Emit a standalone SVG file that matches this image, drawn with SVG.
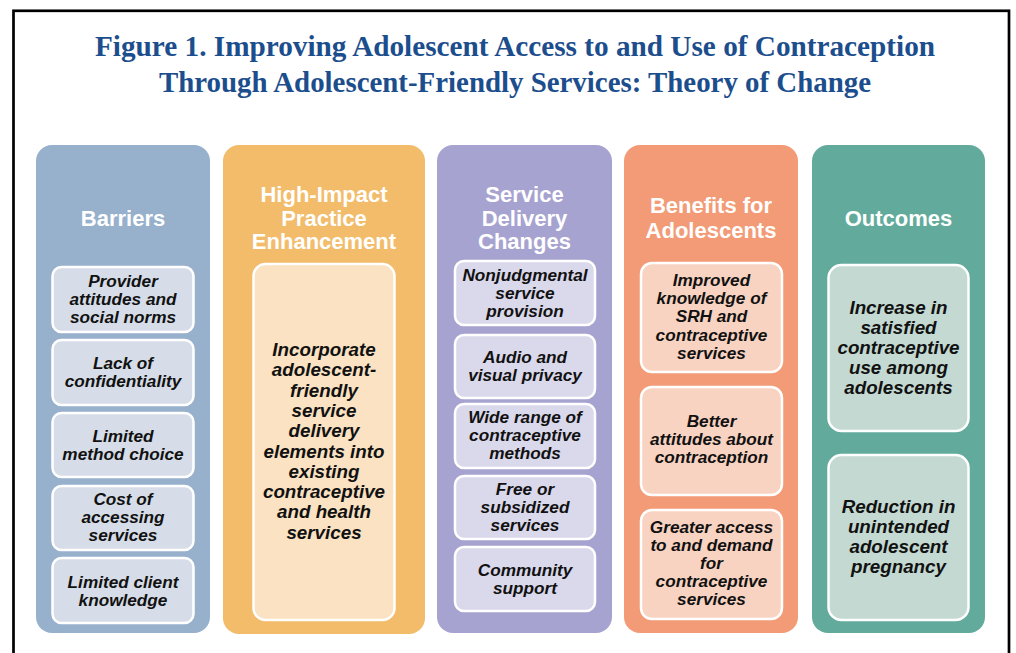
<svg xmlns="http://www.w3.org/2000/svg" width="1016" height="653" viewBox="0 0 1016 653">
<style>
.title{font-family:"Liberation Serif","Times New Roman",serif;font-weight:bold;font-size:29px;fill:#1c4e8d;text-anchor:middle}
.col{stroke:none}
.head{font-family:"Liberation Sans",Arial,sans-serif;font-weight:bold;font-size:22px;fill:#ffffff;text-anchor:middle}
.box{stroke:#ffffff;stroke-width:2.5}
.item{font-family:"Liberation Sans",Arial,sans-serif;font-weight:bold;font-style:italic;font-size:17.2px;fill:#111111;text-anchor:middle}
.big{font-size:18.8px}
</style>
<rect x="0" y="0" width="1016" height="653" fill="#ffffff"/>
<rect x="13.5" y="10.8" width="995.5" height="700" fill="none" stroke="#000000" stroke-width="2.7"/>
<text class="title" x="515" y="56" textLength="840" lengthAdjust="spacingAndGlyphs">Figure 1. Improving Adolescent Access to and Use of Contraception</text>
<text class="title" x="515" y="92" textLength="712" lengthAdjust="spacingAndGlyphs">Through Adolescent-Friendly Services: Theory of Change</text>

<g id="barriers">
<rect class="col" x="36" y="145" width="174" height="488" rx="16" fill="#97b0cc"/>
<text class="head" x="123" y="226">Barriers</text>
<rect class="box" x="52.5" y="267" width="141" height="65" rx="9" fill="#d6dde8"/>
<text class="item" x="123" y="286.5">Provider</text>
<text class="item" x="123" y="304.5">attitudes and</text>
<text class="item" x="123" y="322.5">social norms</text>
<rect class="box" x="52.5" y="340" width="141" height="65" rx="9" fill="#d6dde8"/>
<text class="item" x="123" y="368.5">Lack of</text>
<text class="item" x="123" y="386.5">confidentiality</text>
<rect class="box" x="52.5" y="413" width="141" height="64" rx="9" fill="#d6dde8"/>
<text class="item" x="123" y="441.5">Limited</text>
<text class="item" x="123" y="459.5">method choice</text>
<rect class="box" x="52.5" y="486" width="141" height="64" rx="9" fill="#d6dde8"/>
<text class="item" x="123" y="505">Cost of</text>
<text class="item" x="123" y="523">accessing</text>
<text class="item" x="123" y="541">services</text>
<rect class="box" x="52.5" y="558" width="141" height="65" rx="9" fill="#d6dde8"/>
<text class="item" x="123" y="587.5">Limited client</text>
<text class="item" x="123" y="605.5">knowledge</text>
</g>

<g id="hip">
<rect class="col" x="223" y="145" width="202" height="489" rx="16" fill="#f2bc6a"/>
<text class="head" x="324" y="202">High-Impact</text>
<text class="head" x="324" y="225.5">Practice</text>
<text class="head" x="324" y="249">Enhancement</text>
<rect class="box" x="253.5" y="264" width="141" height="356" rx="12" fill="#fae2c2"/>
<text class="item big" x="324" y="356">Incorporate</text>
<text class="item big" x="324" y="376.3">adolescent-</text>
<text class="item big" x="324" y="396.6">friendly</text>
<text class="item big" x="324" y="416.9">service</text>
<text class="item big" x="324" y="437.2">delivery</text>
<text class="item big" x="324" y="457.5">elements into</text>
<text class="item big" x="324" y="477.8">existing</text>
<text class="item big" x="324" y="498.1">contraceptive</text>
<text class="item big" x="324" y="518.4">and health</text>
<text class="item big" x="324" y="538.7">services</text>
</g>

<g id="service">
<rect class="col" x="437" y="145" width="175" height="488" rx="16" fill="#a7a3d0"/>
<text class="head" x="524.5" y="202">Service</text>
<text class="head" x="524.5" y="225.5">Delivery</text>
<text class="head" x="524.5" y="249">Changes</text>
<rect class="box" x="455" y="261" width="140" height="64" rx="9" fill="#dad8eb"/>
<text class="item" x="525" y="280.5">Nonjudgmental</text>
<text class="item" x="525" y="298.5">service</text>
<text class="item" x="525" y="316.5">provision</text>
<rect class="box" x="455" y="335" width="140" height="63" rx="9" fill="#dad8eb"/>
<text class="item" x="525" y="362.5">Audio and</text>
<text class="item" x="525" y="380.5">visual privacy</text>
<rect class="box" x="455" y="404" width="140" height="64" rx="9" fill="#dad8eb"/>
<text class="item" x="525" y="423">Wide range of</text>
<text class="item" x="525" y="441">contraceptive</text>
<text class="item" x="525" y="459">methods</text>
<rect class="box" x="455" y="476" width="140" height="63" rx="9" fill="#dad8eb"/>
<text class="item" x="525" y="494.5">Free or</text>
<text class="item" x="525" y="512.5">subsidized</text>
<text class="item" x="525" y="530.5">services</text>
<rect class="box" x="455" y="547" width="140" height="64" rx="9" fill="#dad8eb"/>
<text class="item" x="525" y="575.5">Community</text>
<text class="item" x="525" y="593.5">support</text>
</g>

<g id="benefits">
<rect class="col" x="624" y="145" width="174" height="488" rx="16" fill="#f29b76"/>
<text class="head" x="711" y="213">Benefits for</text>
<text class="head" x="711" y="237.5">Adolescents</text>
<rect class="box" x="641" y="263" width="141" height="109" rx="11" fill="#f9d3c1"/>
<text class="item" x="711.5" y="286">Improved</text>
<text class="item" x="711.5" y="304">knowledge of</text>
<text class="item" x="711.5" y="322">SRH and</text>
<text class="item" x="711.5" y="340.5">contraceptive</text>
<text class="item" x="711.5" y="359">services</text>
<rect class="box" x="641" y="387" width="141" height="108" rx="11" fill="#f9d3c1"/>
<text class="item" x="711.5" y="427">Better</text>
<text class="item" x="711.5" y="445">attitudes about</text>
<text class="item" x="711.5" y="463">contraception</text>
<rect class="box" x="641" y="510" width="141" height="109" rx="11" fill="#f9d3c1"/>
<text class="item" x="711.5" y="532.5">Greater access</text>
<text class="item" x="711.5" y="550.5">to and demand</text>
<text class="item" x="711.5" y="568.5">for</text>
<text class="item" x="711.5" y="586.5">contraceptive</text>
<text class="item" x="711.5" y="605">services</text>
</g>

<g id="outcomes">
<rect class="col" x="812" y="145" width="173" height="488" rx="16" fill="#62ab9c"/>
<text class="head" x="898.5" y="226">Outcomes</text>
<rect class="box" x="828.5" y="265" width="140" height="166" rx="13" fill="#c3d9d1"/>
<text class="item big" x="898.5" y="313.5">Increase in</text>
<text class="item big" x="898.5" y="333.5">satisfied</text>
<text class="item big" x="898.5" y="353.5">contraceptive</text>
<text class="item big" x="898.5" y="373.5">use among</text>
<text class="item big" x="898.5" y="394">adolescents</text>
<rect class="box" x="828.5" y="455" width="140" height="165" rx="13" fill="#c3d9d1"/>
<text class="item big" x="898.5" y="513">Reduction in</text>
<text class="item big" x="898.5" y="533">unintended</text>
<text class="item big" x="898.5" y="553">adolescent</text>
<text class="item big" x="898.5" y="573">pregnancy</text>
</g>

<g id="connectors"></g>
</svg>
